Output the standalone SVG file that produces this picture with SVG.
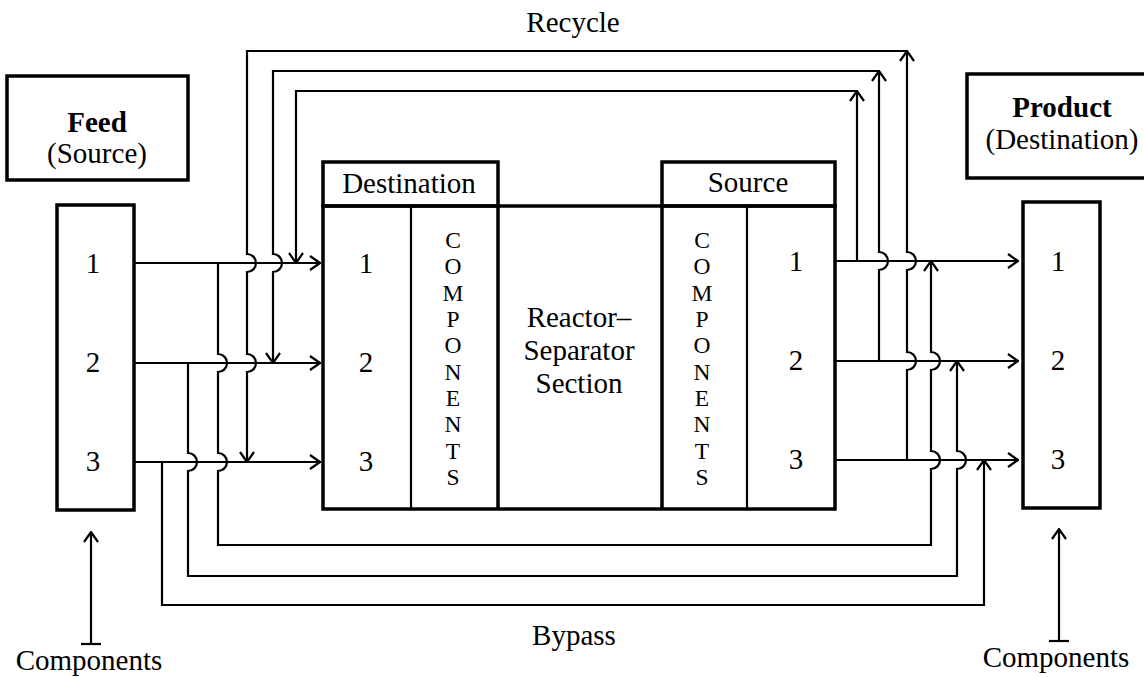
<svg xmlns="http://www.w3.org/2000/svg" width="1144" height="677" viewBox="0 0 1144 677">
<style>
text{font-family:"Liberation Serif","Times New Roman",serif;font-size:29px;fill:#000;text-anchor:middle}
.b{font-weight:bold}
text.v{font-size:23.5px}
.box{fill:none;stroke:#000;stroke-width:3.5}
.thin{fill:none;stroke:#000;stroke-width:2.2}
.ln{fill:none;stroke:#000;stroke-width:2.2}
</style>
<defs>
<marker id="ar" viewBox="0 0 12 16" refX="11" refY="8" markerWidth="12" markerHeight="16" markerUnits="userSpaceOnUse" orient="auto">
<path d="M1,1 L11,8 L1,15" fill="none" stroke="#000" stroke-width="2.2"/>
</marker>
</defs>
<rect width="1144" height="677" fill="#fff"/>

<g id="feed-label">
<rect class="box" x="7" y="76" width="181" height="104"/>
<text class="b" x="97" y="132">Feed</text>
<text x="97" y="163">(Source)</text>
</g>

<g id="product-label">
<rect class="box" x="967" y="74" width="190" height="104"/>
<text class="b" x="1062" y="117">Product</text>
<text x="1062" y="149">(Destination)</text>
</g>

<g id="feed-column">
<rect class="box" x="57" y="205" width="77" height="305"/>
<text x="93" y="273">1</text>
<text x="93" y="372">2</text>
<text x="93" y="471">3</text>
</g>

<g id="product-column">
<rect class="box" x="1023" y="202" width="77" height="306"/>
<text x="1058" y="271">1</text>
<text x="1058" y="370">2</text>
<text x="1058" y="469">3</text>
</g>

<g id="reactor-separator">
<rect class="box" x="323" y="206" width="512" height="303"/>
<rect class="box" x="323" y="162" width="175" height="44"/>
<rect class="box" x="662" y="162" width="173" height="44"/>
<line class="box" x1="498" y1="206" x2="498" y2="509"/>
<line class="box" x1="662" y1="206" x2="662" y2="509"/>
<line class="thin" x1="411" y1="206" x2="411" y2="509"/>
<line class="thin" x1="747" y1="206" x2="747" y2="509"/>
<text x="409" y="193">Destination</text>
<text x="748" y="192">Source</text>
<text x="366" y="273">1</text>
<text x="366" y="372">2</text>
<text x="366" y="471">3</text>
<text x="796" y="271">1</text>
<text x="796" y="370">2</text>
<text x="796" y="469">3</text>
<text x="579" y="327">Reactor–</text>
<text x="579" y="360">Separator</text>
<text x="579" y="393">Section</text>
<text class="v" x="453" y="248">C</text>
<text class="v" x="453" y="274">O</text>
<text class="v" x="453" y="301">M</text>
<text class="v" x="453" y="327">P</text>
<text class="v" x="453" y="353">O</text>
<text class="v" x="453" y="380">N</text>
<text class="v" x="453" y="406">E</text>
<text class="v" x="453" y="432">N</text>
<text class="v" x="453" y="459">T</text>
<text class="v" x="453" y="485">S</text>
<text class="v" x="702" y="248">C</text>
<text class="v" x="702" y="274">O</text>
<text class="v" x="702" y="301">M</text>
<text class="v" x="702" y="327">P</text>
<text class="v" x="702" y="353">O</text>
<text class="v" x="702" y="380">N</text>
<text class="v" x="702" y="406">E</text>
<text class="v" x="702" y="432">N</text>
<text class="v" x="702" y="459">T</text>
<text class="v" x="702" y="485">S</text>
</g>

<g id="labels">
<text x="573" y="32">Recycle</text>
<text x="574" y="645">Bypass</text>
<text x="89" y="670">Components</text>
<text x="1056" y="667">Components</text>
</g>

<g id="connectors">
<path class="ln" d="M134,263 H320" marker-end="url(#ar)"/>
<path class="ln" d="M134,363 H320" marker-end="url(#ar)"/>
<path class="ln" d="M134,462 H320" marker-end="url(#ar)"/>
<path class="ln" d="M835,261 H1018" marker-end="url(#ar)"/>
<path class="ln" d="M835,361 H1018" marker-end="url(#ar)"/>
<path class="ln" d="M835,460 H1018" marker-end="url(#ar)"/>

<path class="ln" d="M218,263 V354 A9,9 0 0 1 218,372 V453 A9,9 0 0 1 218,471 V545 H931 V469 A9,9 0 0 0 931,451 V370 A9,9 0 0 0 931,352 V261" marker-end="url(#ar)"/>
<path class="ln" d="M188,363 V453 A9,9 0 0 1 188,471 V576 H957 V469 A9,9 0 0 0 957,451 V361" marker-end="url(#ar)"/>
<path class="ln" d="M162,462 V605 H984 V460" marker-end="url(#ar)"/>

<path class="ln" d="M857,261 V91" marker-end="url(#ar)"/>
<path class="ln" d="M857,91 H296 V263" marker-end="url(#ar)"/>
<path class="ln" d="M879,361 V270 A9,9 0 0 0 879,252 V71" marker-end="url(#ar)"/>
<path class="ln" d="M879,71 H273 V254 A9,9 0 0 1 273,272 V363" marker-end="url(#ar)"/>
<path class="ln" d="M907,460 V370 A9,9 0 0 0 907,352 V270 A9,9 0 0 0 907,252 V51" marker-end="url(#ar)"/>
<path class="ln" d="M907,51 H247 V254 A9,9 0 0 1 247,272 V354 A9,9 0 0 1 247,372 V462" marker-end="url(#ar)"/>

<path class="ln" d="M91,644 V532" marker-end="url(#ar)"/>
<path class="ln" d="M81,644 H101"/>
<path class="ln" d="M1059,641 V529" marker-end="url(#ar)"/>
<path class="ln" d="M1049,641 H1069"/>
</g>
</svg>
